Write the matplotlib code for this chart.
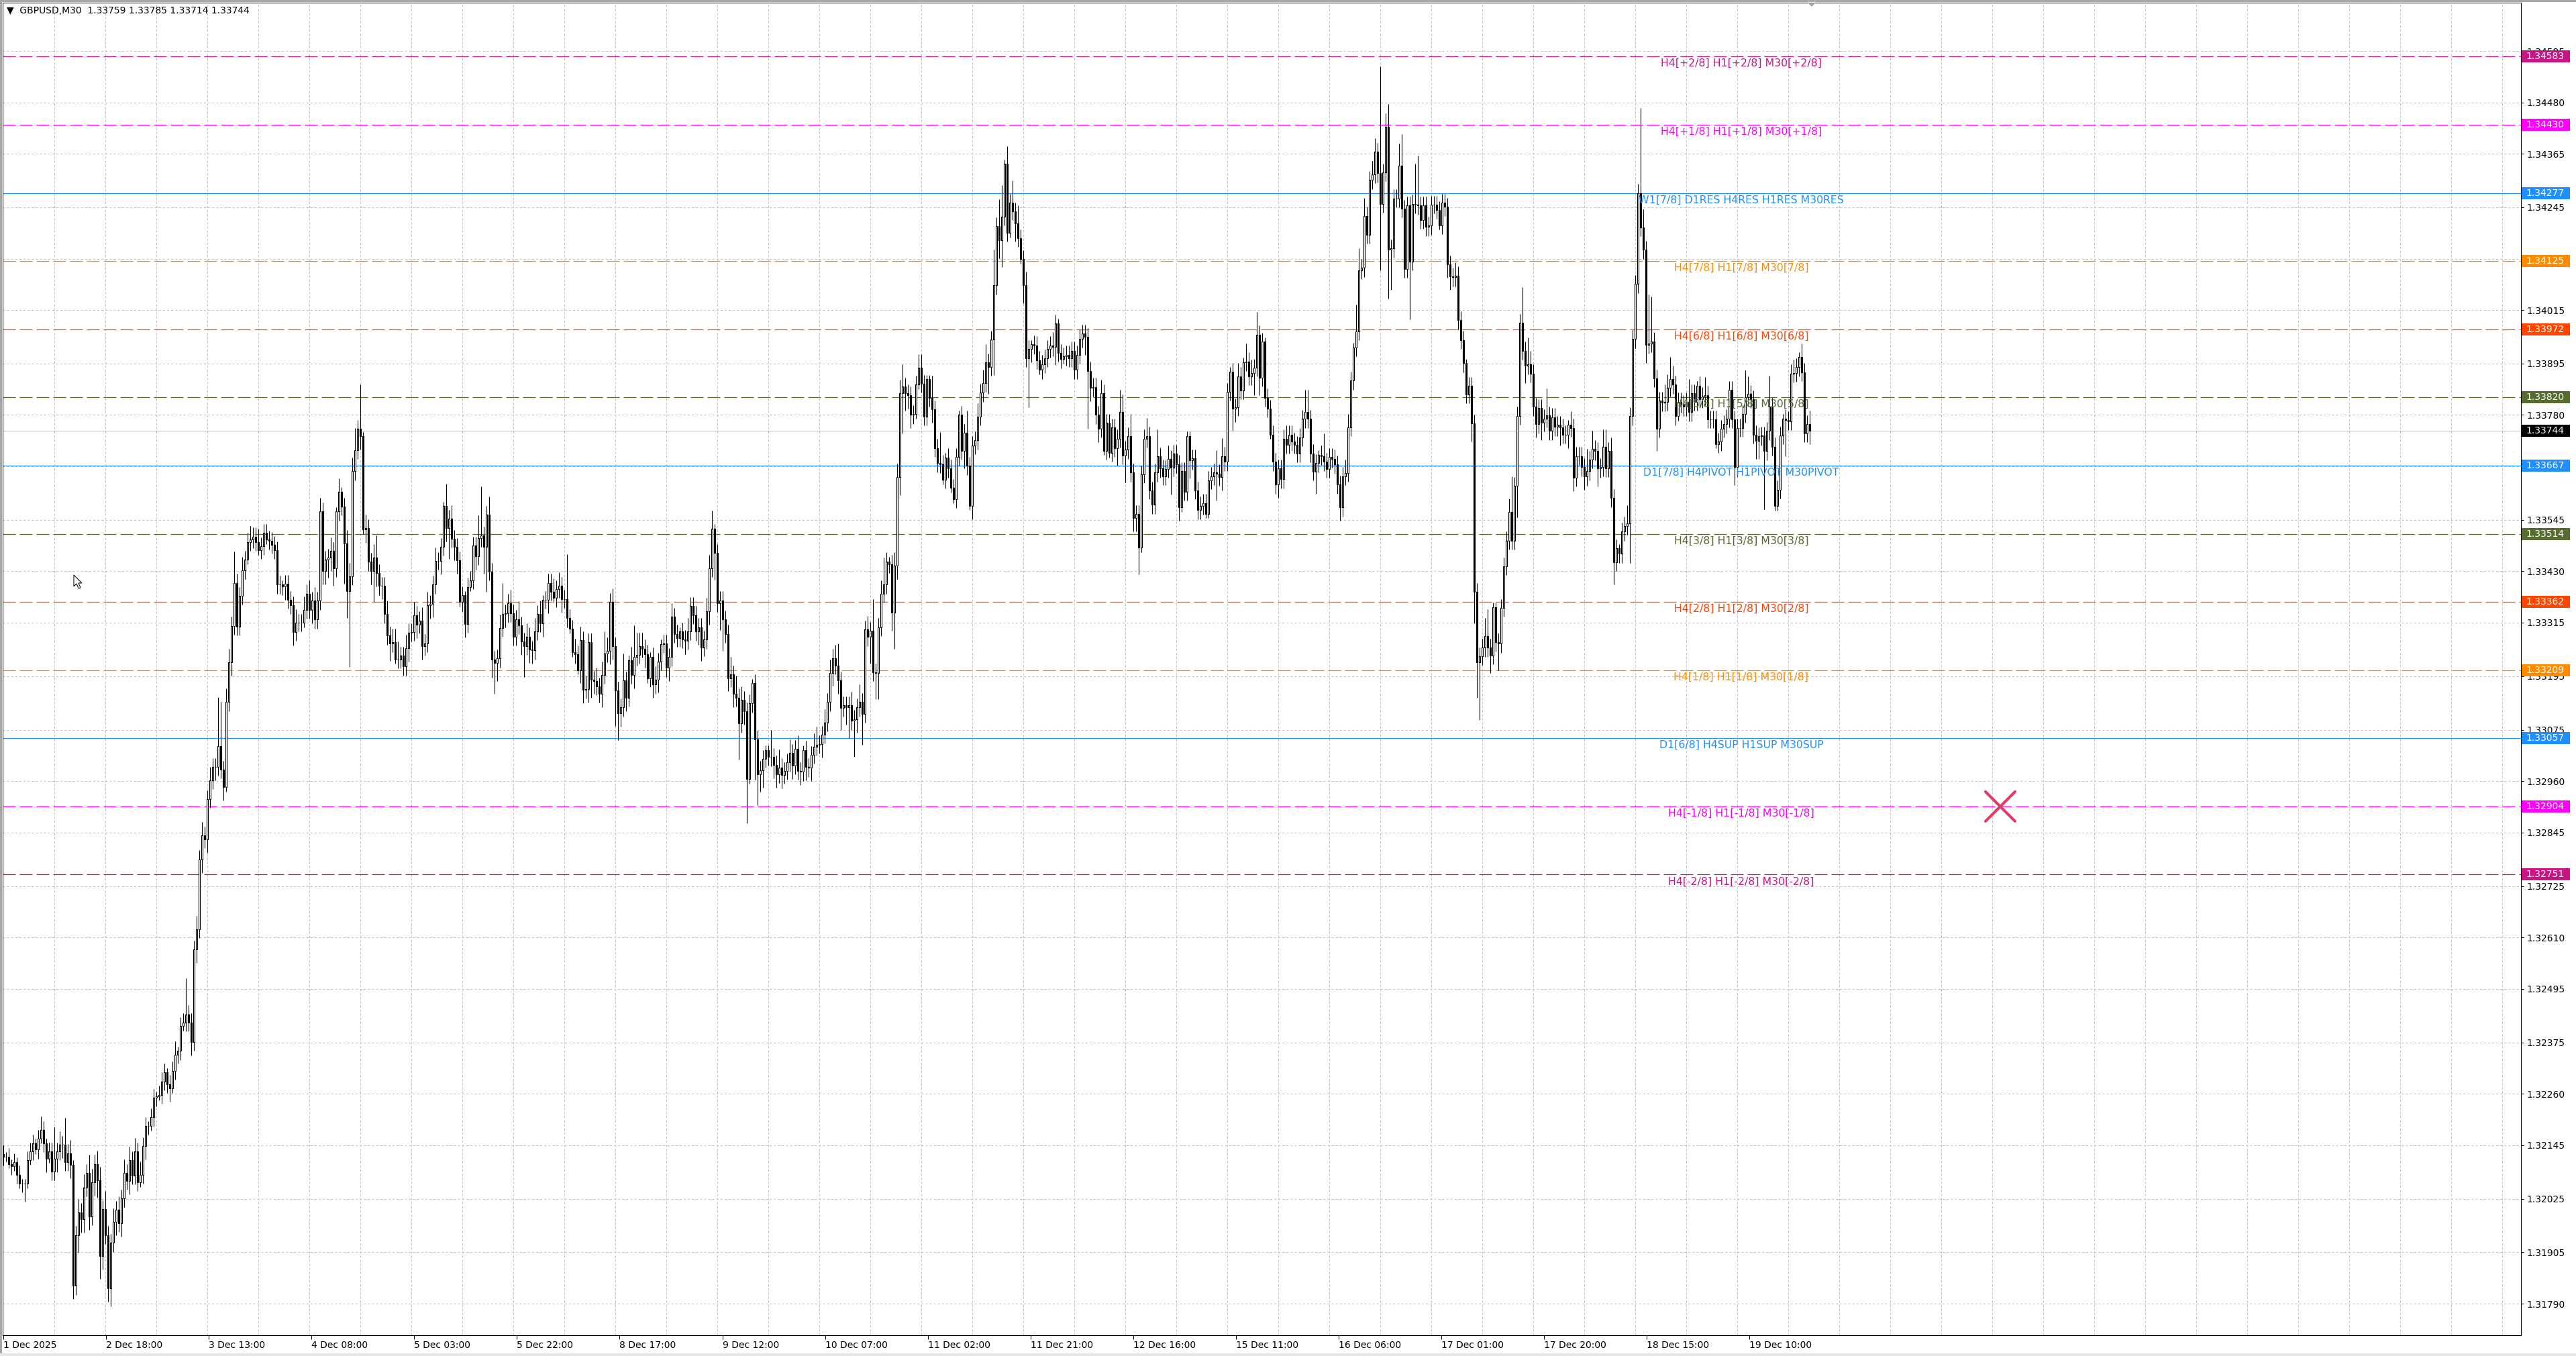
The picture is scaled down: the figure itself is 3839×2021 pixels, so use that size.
import numpy as np
import matplotlib.pyplot as plt
from matplotlib.patches import Rectangle, Polygon
from matplotlib.markers import MarkerStyle
from matplotlib.transforms import IdentityTransform, offset_copy

plt.rcParams['font.family'] = ['DejaVu Sans']
plt.rcParams['lines.scale_dashes'] = False

title_text = '\u25BC  GBPUSD,M30  1.33759 1.33785 1.33714 1.33744'

# M30 closes, in points above 1.30000
first_open = 2125
closes = [
    2119, 2119, 2103, 2098, 2107, 2079, 2059, 2059, 2059, 2111,
    2131, 2149, 2135, 2159, 2179, 2149, 2115, 2131, 2086, 2115,
    2131, 2146, 2146, 2107, 2127, 2101, 1830, 1944, 1995, 1980,
    2050, 2083, 1986, 2062, 2103, 2067, 1896, 2002, 1944, 1824,
    1926, 1974, 2000, 1971, 2026, 2083, 2065, 2111, 2077, 2131,
    2062, 2079, 2143, 2188, 2188, 2207, 2251, 2255, 2258, 2288,
    2308, 2282, 2272, 2312, 2348, 2356, 2412, 2420, 2438, 2420,
    2376, 2583, 2629, 2785, 2838, 2830, 2920, 2962, 2992, 2992,
    3038, 2986, 2947, 3137, 3227, 3308, 3404, 3306, 3375, 3432,
    3456, 3496, 3501, 3508, 3496, 3477, 3486, 3516, 3501, 3498,
    3489, 3477, 3400, 3400, 3396, 3402, 3366, 3354, 3294, 3315,
    3315, 3315, 3344, 3380, 3344, 3364, 3322, 3364, 3564, 3431,
    3456, 3460, 3476, 3437, 3564, 3608, 3575, 3492, 3386, 3419,
    3654, 3701, 3749, 3732, 3524, 3527, 3451, 3431, 3461, 3426,
    3397, 3397, 3334, 3286, 3269, 3272, 3233, 3233, 3241, 3217,
    3258, 3293, 3294, 3332, 3311, 3320, 3262, 3269, 3354, 3357,
    3400, 3453, 3453, 3485, 3576, 3527, 3548, 3503, 3485, 3454,
    3361, 3376, 3312, 3395, 3410, 3487, 3464, 3505, 3510, 3484,
    3557, 3429, 3232, 3225, 3235, 3303, 3334, 3336, 3359, 3336,
    3284, 3323, 3309, 3273, 3263, 3284, 3255, 3253, 3296, 3334,
    3314, 3366, 3366, 3404, 3384, 3370, 3390, 3397, 3368, 3368,
    3325, 3301, 3249, 3244, 3209, 3276, 3165, 3166, 3271, 3187,
    3185, 3172, 3156, 3198, 3246, 3252, 3361, 3262, 3163, 3112,
    3125, 3186, 3147, 3231, 3198, 3239, 3243, 3263, 3257, 3245,
    3190, 3239, 3176, 3188, 3228, 3267, 3268, 3214, 3238, 3328,
    3290, 3281, 3295, 3278, 3275, 3296, 3352, 3332, 3295, 3305,
    3260, 3277, 3340, 3437, 3526, 3471, 3359, 3365, 3322, 3290,
    3191, 3199, 3156, 3147, 3089, 3142, 3116, 2965, 3134, 3179,
    3053, 2976, 2985, 3010, 3030, 3015, 3014, 2997, 2976, 2991,
    2974, 2983, 3002, 3023, 2995, 3032, 2983, 2981, 3030, 2992,
    2990, 3019, 3037, 3042, 3043, 3064, 3091, 3137, 3203, 3236,
    3219, 3186, 3124, 3130, 3126, 3130, 3095, 3099, 3125, 3137,
    3111, 3300, 3283, 3297, 3204, 3203, 3305, 3380, 3400, 3452,
    3446, 3337, 3443, 3641, 3829, 3844, 3829, 3824, 3780, 3782,
    3848, 3886, 3850, 3776, 3860, 3818, 3792, 3706, 3672, 3670,
    3635, 3685, 3660, 3617, 3592, 3686, 3780, 3700, 3740, 3666,
    3577, 3712, 3723, 3776, 3830, 3852, 3898, 3888, 3949, 4070,
    4203, 4171, 4224, 4342, 4188, 4255, 4236, 4209, 4176, 4129,
    4070, 3907, 3928, 3938, 3936, 3903, 3881, 3894, 3907, 3928,
    3936, 3932, 3985, 3919, 3905, 3911, 3915, 3907, 3924, 3881,
    3915, 3951, 3962, 3955, 3879, 3841, 3843, 3780, 3749, 3829,
    3700, 3762, 3695, 3752, 3706, 3727, 3786, 3689, 3702, 3732,
    3651, 3549, 3558, 3483, 3647, 3727, 3733, 3611, 3579, 3651,
    3687, 3660, 3643, 3659, 3681, 3662, 3693, 3670, 3573, 3654,
    3608, 3733, 3678, 3683, 3611, 3567, 3577, 3583, 3559, 3634,
    3643, 3651, 3649, 3641, 3688, 3675, 3832, 3877, 3794, 3797,
    3867, 3835, 3898, 3900, 3867, 3874, 3886, 3960, 3864, 3944,
    3819, 3794, 3736, 3675, 3624, 3660, 3636, 3727, 3713, 3736,
    3720, 3713, 3694, 3730, 3771, 3787, 3771, 3694, 3653, 3672,
    3691, 3688, 3675, 3659, 3686, 3682, 3669, 3624, 3573, 3643,
    3650, 3752, 3857, 3931, 3967, 4104, 4109, 4226, 4184, 4306,
    4319, 4369, 4321, 4253, 4323, 4426, 4150, 4153, 4265, 4265,
    4338, 4242, 4107, 4249, 4124, 4253, 4251, 4249, 4217, 4249,
    4201, 4204, 4251, 4251, 4239, 4205, 4255, 4246, 4117, 4090,
    4088, 4092, 3992, 3948, 3896, 3826, 3845, 3761, 3384, 3227,
    3240, 3259, 3285, 3259, 3242, 3350, 3271, 3268, 3348, 3441,
    3499, 3563, 3499, 3621, 3778, 3986, 3924, 3891, 3894, 3873,
    3798, 3759, 3795, 3763, 3772, 3779, 3744, 3775, 3753, 3758,
    3752, 3736, 3736, 3758, 3751, 3640, 3688, 3688, 3663, 3642,
    3654, 3680, 3704, 3699, 3660, 3663, 3708, 3661, 3699, 3594,
    3450, 3481, 3469, 3519, 3532, 3538, 3777, 3950, 4073, 4277,
    4200, 4150, 3937, 3940, 3945, 3862, 3749, 3812, 3808, 3809,
    3841, 3860, 3848, 3777, 3810, 3805, 3798, 3810, 3786, 3829,
    3810, 3846, 3816, 3822, 3825, 3770, 3770, 3770, 3715, 3720,
    3749, 3759, 3772, 3836, 3770, 3663, 3751, 3751, 3782, 3820,
    3827, 3815, 3736, 3722, 3732, 3734, 3699, 3744, 3798, 3709,
    3576, 3613, 3734, 3772, 3768, 3766, 3873, 3874, 3887, 3910,
    3876, 3739, 3759, 3744,
]

# upper / lower wicks beyond the body, in pips
wick_up = [
    2, 1, 2, 1, 2, 1, 2, 1, 1, 2,
    2, 2, 1, 2, 3, 2, 1, 2, 2, 7,
    2, 3, 2, 6, 2, 3, 1, 2, 3, 2,
    3, 2, 4, 3, 2, 3, 3, 2, 4, 2,
    2, 3, 2, 3, 2, 3, 2, 3, 2, 3,
    2, 3, 2, 2, 1, 2, 2, 1, 2, 2,
    2, 1, 2, 2, 3, 1, 2, 2, 8, 2,
    2, 2, 3, 2, 3, 2, 2, 3, 2, 2,
    11, 10, 2, 3, 3, 2, 7, 2, 2, 3,
    2, 2, 3, 2, 2, 3, 2, 2, 2, 2,
    2, 2, 2, 2, 1, 2, 2, 2, 2, 3,
    2, 2, 3, 2, 3, 2, 3, 2, 3, 2,
    2, 2, 3, 2, 1, 3, 1, 2, 3, 3,
    3, 5, 2, 10, 1, 3, 2, 2, 3, 5,
    2, 2, 2, 3, 2, 3, 3, 4, 2, 2,
    3, 2, 2, 3, 2, 2, 3, 2, 3, 2,
    2, 3, 2, 2, 1, 5, 2, 3, 2, 2,
    2, 2, 1, 2, 2, 2, 2, 5, 11, 2,
    2, 4, 2, 2, 2, 3, 7, 2, 2, 3,
    2, 2, 4, 2, 2, 3, 2, 2, 3, 2,
    3, 1, 2, 2, 2, 3, 2, 3, 2, 2,
    10, 2, 2, 3, 2, 3, 2, 3, 2, 2,
    2, 3, 2, 3, 5, 3, 2, 3, 2, 2,
    2, 6, 2, 1, 3, 7, 5, 3, 3, 2,
    2, 1, 2, 3, 2, 1, 2, 2, 2, 3,
    2, 2, 1, 2, 2, 3, 2, 2, 2, 2,
    2, 2, 3, 3, 4, 1, 2, 2, 2, 2,
    2, 4, 2, 4, 2, 3, 2, 2, 2, 1,
    2, 2, 2, 2, 1, 1, 6, 2, 2, 4,
    2, 2, 2, 3, 2, 2, 3, 2, 1, 2,
    2, 2, 3, 4, 2, 2, 3, 2, 3, 2,
    3, 5, 2, 2, 2, 2, 3, 2, 2, 4,
    2, 2, 3, 2, 7, 2, 2, 3, 6, 2,
    1, 2, 3, 3, 3, 5, 2, 2, 2, 2,
    2, 3, 3, 2, 1, 1, 5, 2, 2, 7,
    2, 1, 2, 2, 2, 2, 1, 2, 2, 5,
    2, 2, 2, 3, 2, 3, 4, 2, 2, 8,
    2, 6, 7, 1, 4, 2, 5, 2, 4, 2,
    2, 3, 2, 1, 2, 2, 2, 2, 2, 2,
    2, 3, 2, 1, 2, 2, 2, 2, 2, 2,
    2, 2, 2, 2, 2, 2, 2, 2, 2, 3,
    2, 2, 2, 2, 2, 2, 5, 4, 2, 2,
    5, 2, 2, 2, 2, 2, 4, 2, 2, 2,
    6, 2, 2, 2, 3, 2, 2, 2, 2, 2,
    2, 1, 1, 2, 2, 2, 2, 2, 2, 2,
    2, 2, 5, 2, 4, 2, 2, 1, 2, 2,
    3, 2, 1, 4, 2, 3, 2, 5, 2, 2,
    1, 2, 2, 2, 2, 2, 2, 2, 3, 2,
    2, 2, 2, 2, 2, 5, 5, 2, 2, 2,
    1, 2, 5, 2, 2, 2, 2, 2, 2, 2,
    3, 3, 2, 1, 6, 5, 2, 4, 2, 2,
    3, 3, 2, 24, 2, 3, 5, 2, 2, 2,
    5, 7, 2, 2, 2, 2, 9, 11, 2, 2,
    2, 2, 2, 2, 2, 2, 2, 2, 2, 2,
    2, 3, 2, 2, 2, 1, 2, 2, 2, 2,
    2, 2, 4, 6, 2, 1, 1, 2, 2, 2,
    2, 3, 8, 2, 2, 2, 8, 2, 6, 3,
    2, 2, 2, 2, 2, 6, 2, 2, 2, 2,
    2, 2, 2, 1, 3, 2, 2, 2, 2, 2,
    5, 2, 4, 2, 2, 2, 4, 4, 2, 3,
    2, 2, 1, 2, 2, 4, 2, 2, 2, 2,
    19, 4, 2, 11, 10, 2, 2, 2, 2, 4,
    3, 5, 3, 2, 2, 2, 2, 2, 5, 2,
    2, 1, 2, 2, 4, 2, 2, 2, 2, 2,
    2, 2, 2, 2, 2, 2, 2, 2, 2, 6,
    4, 2, 2, 2, 2, 2, 2, 2, 7, 2,
    2, 2, 2, 1, 2, 2, 2, 3, 2, 1,
    3, 2, 2, 3,
]
wick_dn = [
    2, 1, 1, 2, 1, 2, 1, 2, 4, 1,
    1, 2, 1, 2, 1, 2, 3, 1, 2, 2,
    3, 2, 3, 2, 2, 3, 3, 2, 4, 3,
    3, 2, 3, 2, 3, 4, 5, 3, 2, 3,
    4, 2, 3, 2, 3, 2, 2, 3, 2, 2,
    2, 1, 2, 3, 2, 1, 2, 2, 1, 2,
    2, 2, 3, 1, 2, 2, 2, 1, 2, 2,
    3, 2, 3, 2, 3, 2, 3, 2, 2, 3,
    2, 2, 3, 1, 2, 3, 2, 2, 2, 2,
    2, 1, 2, 2, 2, 1, 2, 2, 1, 2,
    2, 2, 2, 2, 2, 3, 2, 2, 3, 2,
    2, 2, 1, 2, 2, 3, 2, 2, 2, 3,
    3, 4, 3, 4, 2, 2, 2, 9, 6, 17,
    2, 2, 2, 3, 1, 3, 2, 3, 7, 3,
    2, 3, 2, 2, 4, 2, 1, 2, 2, 2,
    2, 3, 2, 2, 3, 2, 3, 2, 2, 3,
    3, 2, 2, 3, 2, 3, 7, 2, 3, 3,
    1, 2, 3, 2, 1, 2, 3, 2, 2, 6,
    10, 2, 4, 7, 4, 2, 2, 3, 2, 2,
    2, 2, 2, 3, 7, 2, 3, 3, 2, 2,
    2, 3, 2, 3, 2, 1, 2, 2, 3, 2,
    2, 1, 1, 2, 1, 3, 3, 2, 3, 4,
    3, 2, 2, 3, 2, 2, 3, 3, 8, 6,
    3, 2, 3, 2, 2, 3, 2, 2, 2, 3,
    1, 2, 3, 2, 3, 2, 2, 2, 3, 2,
    2, 2, 2, 2, 3, 2, 2, 2, 2, 3,
    3, 2, 2, 3, 2, 6, 2, 6, 7, 2,
    3, 2, 3, 2, 8, 2, 3, 10, 1, 2,
    9, 7, 4, 4, 2, 2, 2, 3, 3, 2,
    3, 2, 2, 2, 3, 2, 2, 3, 2, 3,
    2, 3, 2, 2, 2, 3, 2, 2, 2, 3,
    2, 3, 5, 2, 4, 7, 2, 8, 3, 2,
    7, 2, 2, 6, 2, 6, 6, 2, 2, 2,
    2, 4, 8, 3, 4, 9, 4, 3, 3, 2,
    1, 1, 2, 2, 2, 2, 3, 2, 2, 2,
    1, 2, 2, 1, 1, 2, 2, 2, 4, 2,
    1, 3, 2, 2, 2, 2, 2, 6, 2, 8,
    2, 4, 6, 2, 2, 1, 2, 4, 2, 1,
    4, 2, 11, 3, 2, 2, 1, 2, 2, 2,
    2, 2, 4, 2, 2, 1, 2, 2, 2, 2,
    2, 2, 2, 4, 13, 3, 2, 2, 3, 2,
    1, 2, 1, 2, 2, 4, 2, 2, 6, 2,
    2, 3, 3, 6, 1, 2, 2, 2, 2, 2,
    2, 2, 2, 2, 2, 6, 2, 2, 3, 1,
    2, 2, 4, 2, 2, 2, 2, 2, 1, 1,
    2, 2, 6, 2, 3, 2, 2, 2, 5, 3,
    2, 2, 2, 2, 2, 2, 5, 2, 4, 2,
    2, 2, 1, 2, 2, 3, 2, 2, 2, 2,
    2, 2, 2, 2, 2, 2, 2, 2, 2, 5,
    2, 2, 2, 2, 2, 2, 2, 2, 3, 2,
    2, 2, 2, 2, 2, 2, 2, 2, 2, 2,
    2, 2, 2, 15, 2, 2, 11, 9, 2, 2,
    2, 2, 2, 2, 13, 2, 2, 2, 2, 2,
    2, 2, 2, 2, 2, 1, 2, 2, 3, 3,
    2, 2, 2, 2, 2, 2, 2, 4, 7, 8,
    13, 2, 2, 2, 4, 2, 2, 6, 2, 2,
    2, 2, 2, 2, 7, 2, 2, 4, 2, 2,
    2, 3, 2, 4, 2, 2, 2, 2, 2, 2,
    4, 2, 2, 3, 2, 3, 2, 2, 2, 3,
    2, 2, 2, 2, 4, 2, 2, 2, 2, 2,
    5, 2, 2, 2, 2, 2, 9, 2, 2, 2,
    2, 2, 4, 2, 2, 2, 5, 2, 2, 2,
    2, 2, 2, 2, 1, 2, 2, 2, 2, 2,
    2, 2, 2, 2, 2, 2, 2, 2, 1, 2,
    2, 2, 2, 2, 2, 4, 2, 2, 2, 2,
    2, 2, 2, 4, 4, 2, 13, 2, 2, 2,
    1, 1, 2, 2, 8, 2, 2, 2, 2, 2,
    2, 2, 2, 3,
]

time_labels = ['1 Dec 2025', '2 Dec 18:00', '3 Dec 13:00', '4 Dec 08:00',
               '5 Dec 03:00', '5 Dec 22:00', '8 Dec 17:00', '9 Dec 12:00',
               '10 Dec 07:00', '11 Dec 02:00', '11 Dec 21:00', '12 Dec 16:00',
               '15 Dec 11:00', '16 Dec 06:00', '17 Dec 01:00', '17 Dec 20:00',
               '18 Dec 15:00', '19 Dec 10:00']

price_ticks = [1.34595, 1.34480, 1.34365, 1.34245, 1.34130, 1.34015, 1.33895,
               1.33780, 1.33665, 1.33545, 1.33430, 1.33315, 1.33195, 1.33075,
               1.32960, 1.32845, 1.32725, 1.32610, 1.32495, 1.32375, 1.32260,
               1.32145, 1.32025, 1.31905, 1.31790]

levels = [1.34583, 1.34430, 1.34277, 1.34125, 1.33972, 1.33820, 1.33667,
          1.33514, 1.33362, 1.33209, 1.33057, 1.32904, 1.32751]
level_names = ['H4[+2/8] H1[+2/8] M30[+2/8]', 'H4[+1/8] H1[+1/8] M30[+1/8]',
               'W1[7/8] D1RES H4RES H1RES M30RES', 'H4[7/8] H1[7/8] M30[7/8]',
               'H4[6/8] H1[6/8] M30[6/8]', 'H4[5/8] H1[5/8] M30[5/8]',
               'D1[7/8] H4PIVOT H1PIVOT M30PIVOT', 'H4[3/8] H1[3/8] M30[3/8]',
               'H4[2/8] H1[2/8] M30[2/8]', 'H4[1/8] H1[1/8] M30[1/8]',
               'D1[6/8] H4SUP H1SUP M30SUP', 'H4[-1/8] H1[-1/8] M30[-1/8]',
               'H4[-2/8] H1[-2/8] M30[-2/8]']
level_colors = ['#C71585', '#FF00FF', '#1E90FF', '#FF8C00', '#FF4500', '#556B2F',
                '#1E90FF', '#556B2F', '#FF4500', '#FF8C00', '#1E90FF', '#FF00FF',
                '#C71585']
level_solid = [False, False, True, False, False, False, True,
               False, False, False, True, False, False]

current_price = 1.33744
cross_bar, cross_price = 744, 1.32904

W, H = 3839, 2021
fig = plt.figure(figsize=(W / 100, H / 100), dpi=100)
fig.patch.set_facecolor('white')
ax = fig.add_axes([4 / W, 31 / H, 3753 / W, 1986 / H])

# candles
c = 1.3 + np.array(closes) / 1e5
o = np.r_[1.3 + first_open / 1e5, c[:-1]]
hi = np.maximum(o, c) + np.array(wick_up) * 1e-4
lo = np.minimum(o, c) - np.array(wick_dn) * 1e-4
x = np.arange(len(c))
face = np.where(c >= o, 'white', 'black')

ax.vlines(x, lo, hi, color='black', lw=0.8, zorder=3)
ax.bar(x, np.abs(c - o), bottom=np.minimum(o, c), width=0.55, color=face,
       edgecolor='black', linewidth=0.8, zorder=4)

# murrey levels
name_tr = offset_copy(ax.transData, fig=fig, y=-3, units='dots')
for lv, name, col, solid in zip(levels, level_names, level_colors, level_solid):
    if solid:
        ax.axhline(lv, color=col, lw=0.9, zorder=2)
    else:
        ax.axhline(lv, color=col, lw=0.9, linestyle=(0, (13.7, 4.3)), zorder=2)
    ax.text(647.5, lv, name, color=col, fontsize=11.3, ha='center', va='top',
            transform=name_tr, zorder=6)

ax.axhline(current_price, color='#C0C0C0', lw=0.75, zorder=1.5)

# red cross object
ax.plot(cross_bar, cross_price, linestyle='none',
        marker=MarkerStyle('x', capstyle='round'), ms=32, mew=3,
        color='#E23C64', zorder=7)

ax.set_xlim(-0.25, 938.0)
ax.set_ylim(1.317194, 1.347032)

# axes, ticks, grid
ax.yaxis.tick_right()
ax.set_yticks(price_ticks)
ax.set_yticklabels([f'{v:.5f}' for v in price_ticks])
ax.tick_params(axis='y', length=3, width=0.75, pad=3, labelsize=10)

ax.set_xticks(np.arange(len(time_labels)) * 38.27)
ax.set_xticklabels(time_labels, ha='left', fontsize=10)
ax.tick_params(axis='x', length=4, width=0.75, pad=2)
ax.set_xticks(np.arange(0, 939, 19), minor=True)
ax.tick_params(axis='x', which='minor', length=0)
ax.grid(True, which='minor', axis='x', color='#C0C0C0', lw=0.75,
        linestyle=(0, (2.2, 2.2)))
ax.grid(True, which='major', axis='y', color='#C0C0C0', lw=0.75,
        linestyle=(0, (2.2, 2.2)))
ax.set_axisbelow(True)
for sp in ax.spines.values():
    sp.set_color('black')
    sp.set_linewidth(0.75)

# price boxes on the right scale
ident = IdentityTransform()
boxes = list(zip(levels, level_colors)) + [(current_price, 'black')]
for v, col in boxes:
    yp = ax.transData.transform((0, v))[1]
    fig.add_artist(Rectangle((3758, yp - 9), 72, 18, transform=ident,
                             facecolor=col, edgecolor='none', zorder=5))
    fig.text(3764, yp, f'{v:.5f}', transform=ident, color='white',
             fontsize=10, ha='left', va='center', zorder=6)

# window chrome
fig.add_artist(Rectangle((0, H - 3), W, 3, transform=ident, facecolor='#A8A8A8',
                         edgecolor='none', zorder=8))
fig.add_artist(Rectangle((0, 0), 3, H, transform=ident, facecolor='#A8A8A8',
                         edgecolor='none', zorder=8))
fig.add_artist(Rectangle((0, 0), W, 4, transform=ident, facecolor='#E6E6E6',
                         edgecolor='none', zorder=8))
fig.add_artist(Polygon([(2694, H - 4), (2706, H - 4), (2700, H - 10)],
                       transform=ident, facecolor='#A0A0A0', edgecolor='none', zorder=8))
cursor = [(110, 1164), (110, 1147), (114, 1151), (117, 1144), (120, 1145),
          (117, 1152), (122, 1152)]
fig.add_artist(Polygon(cursor, transform=ident, facecolor='white',
                       edgecolor='black', lw=0.75, zorder=8))

fig.text(10, H - 16, title_text, transform=ident, fontsize=10,
         ha='left', va='center', zorder=9)

fig.savefig('out.png', dpi=100, facecolor='white')
